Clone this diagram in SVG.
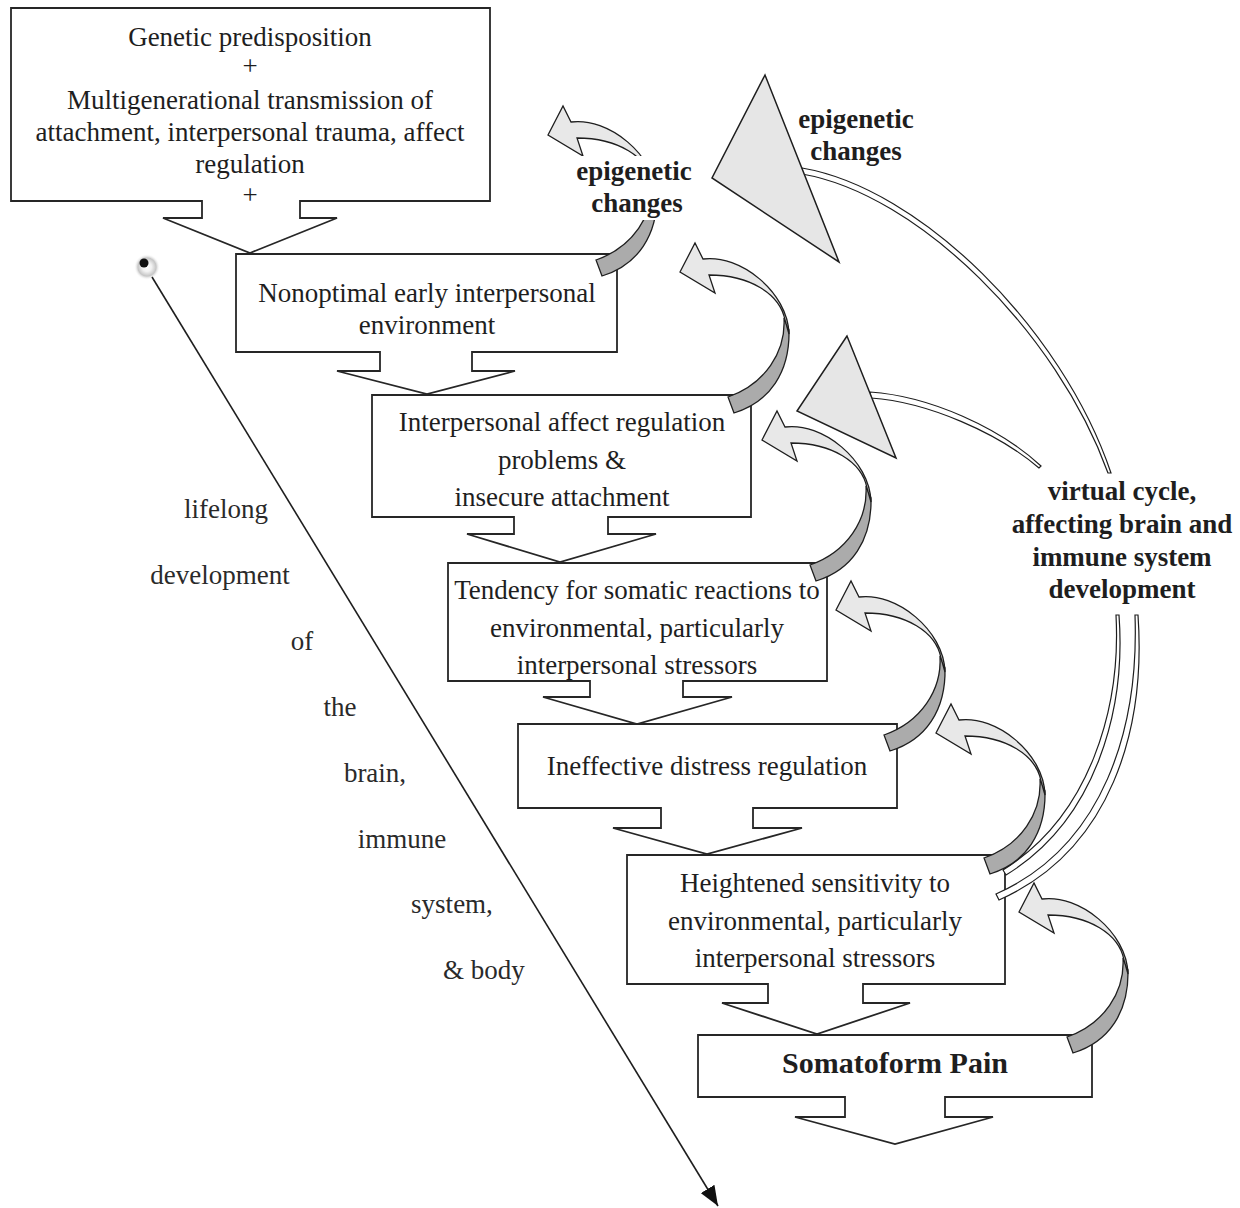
<svg xmlns="http://www.w3.org/2000/svg" width="1240" height="1208" viewBox="0 0 1240 1208">
<defs>
<style>
.box{fill:#fff;stroke:#262626;stroke-width:1.8;stroke-linejoin:miter}
.t{font-family:"Liberation Serif","Times New Roman",serif;font-size:27px;fill:#1e1e1e;text-anchor:middle}
.b{font-weight:bold}
.lbl{font-family:"Liberation Serif","Times New Roman",serif;font-size:27px;fill:#2a2a2a;text-anchor:middle}
.hd{fill:#e8e8e8;stroke:#1e1e1e;stroke-width:1.3;stroke-linejoin:miter}
.tl{fill:#ababab;stroke:#1e1e1e;stroke-width:1.3;stroke-linejoin:miter}
.tri{fill:#e6e6e6;stroke:#1e1e1e;stroke-width:1.5;stroke-linejoin:miter}
.arc{fill:#fff;stroke:#1e1e1e;stroke-width:1.2}
.ln{fill:none;stroke:#1e1e1e;stroke-width:1.6}
</style>
<g id="curl">
<path class="tl" d="M109,58 C110,100 90,130 54,141 L48,125 C85,112 106,80 104,46 Z"/>
<path class="hd" d="M0,0 L15,-29 L23,-13 C60,-18 108,20 109,62 L105,48 C100,22 70,3 29,3 L35,21 Z"/>
</g>
<marker id="ah" viewBox="0 0 20 16" refX="20" refY="8" markerWidth="20" markerHeight="16" markerUnits="userSpaceOnUse" orient="auto">
<path d="M0,0 L20,8 L0,16 Z" fill="#111"/>
</marker>
<radialGradient id="halo" cx="0.5" cy="0.5" r="0.5">
<stop offset="0" stop-color="#ffffff"/>
<stop offset="0.35" stop-color="#f2f2f2"/>
<stop offset="0.7" stop-color="#c6c6c6"/>
<stop offset="1" stop-color="#ffffff" stop-opacity="0"/>
</radialGradient>
</defs>
<rect width="1240" height="1208" fill="#fff"/>

<g id="box1">
<path class="box" d="M11,8 H490 V201 H300 V218 H337 L250,253 L163,218 H202 V201 H11 Z"/>
<text class="t" x="250" y="46">Genetic predisposition</text>
<text class="t" x="250" y="75">+</text>
<text class="t" x="250" y="109">Multigenerational transmission of</text>
<text class="t" x="250" y="141">attachment, interpersonal trauma, affect</text>
<text class="t" x="250" y="173">regulation</text>
<text class="t" x="250" y="204">+</text>
</g>
<g id="box2">
<path class="box" d="M236,254 H617 V352 H472 V371 H515 L427,394 L337,371 H380 V352 H236 Z"/>
<text class="t" x="427" y="302">Nonoptimal early interpersonal</text>
<text class="t" x="427" y="334">environment</text>
</g>
<g id="box3">
<path class="box" d="M372,395 H751 V517 H608 V534 H656 L560,562 L467,534 H514 V517 H372 Z"/>
<text class="t" x="562" y="431">Interpersonal affect regulation</text>
<text class="t" x="562" y="469">problems &amp;</text>
<text class="t" x="562" y="506">insecure attachment</text>
</g>
<g id="box4">
<path class="box" d="M448,563 H827 V681 H683 V697 H732 L637,724 L543,697 H590 V681 H448 Z"/>
<text class="t" x="637" y="599">Tendency for somatic reactions to</text>
<text class="t" x="637" y="637">environmental, particularly</text>
<text class="t" x="637" y="674">interpersonal stressors</text>
</g>
<g id="box5">
<path class="box" d="M518,724 H897 V808 H753 V828 H802 L707,854 L613,828 H661 V808 H518 Z"/>
<text class="t" x="707" y="775">Ineffective distress regulation</text>
</g>
<g id="box6">
<path class="box" d="M627,855 H1005 V984 H863 V1003 H910 L817,1034 L722,1003 H768 V984 H627 Z"/>
<text class="t" x="815" y="892">Heightened sensitivity to</text>
<text class="t" x="815" y="930">environmental, particularly</text>
<text class="t" x="815" y="967">interpersonal stressors</text>
</g>
<g id="box7">
<path class="box" d="M698,1035 H1092 V1097 H945 V1117 H993 L895,1144 L795,1117 H845 V1097 H698 Z"/>
<text class="t b" x="895" y="1073" style="font-size:30px">Somatoform Pain</text>
</g>

<g id="connectors">
<circle cx="147" cy="267" r="13" fill="url(#halo)"/>
<circle cx="144" cy="263" r="4.5" fill="#111"/>
<line class="ln" x1="152" y1="277" x2="718" y2="1206" marker-end="url(#ah)"/>

<path class="arc" d="M802,168 C920,188 1062,328 1111,473 L1108,473 C1057,332 918,194 802,174 Z"/>
<path class="arc" d="M870,392 C930,396 1000,428 1041,466 L1039,468 C998,433 928,402 871,398 Z"/>
<path class="arc" d="M1138,615 C1146,730 1111,850 999,900 L996,894 C1104,846 1139,728 1135,615 Z"/>
<path class="arc" d="M1119,615 C1126,710 1096,820 1006,875 L1003,870 C1090,816 1121,708 1116,615 Z"/>
<polygon class="tri" points="765,75 712,178 839,262"/>
<polygon class="tri" points="847,336 797,411 896,458"/>

<use href="#curl" transform="translate(548,135)"/>
<use href="#curl" transform="translate(680,272)"/>
<use href="#curl" transform="translate(762,440)"/>
<use href="#curl" transform="translate(836,610)"/>
<use href="#curl" transform="translate(936,733)"/>
<use href="#curl" transform="translate(1019,912)"/>
</g>

<g id="epigenetic1">
<rect x="571" y="156" width="126" height="64" fill="#fff"/>
<text class="t b" x="634" y="180">epigenetic</text>
<text class="t b" x="637" y="212">changes</text>
</g>
<g id="epigenetic2">
<text class="t b" x="856" y="128">epigenetic</text>
<text class="t b" x="856" y="160">changes</text>
</g>
<g id="virtual-cycle">
<text class="t b" x="1122" y="500">virtual cycle,</text>
<text class="t b" x="1122" y="533">affecting brain and</text>
<text class="t b" x="1122" y="566">immune system</text>
<text class="t b" x="1122" y="598">development</text>
</g>
<g id="lifelong-label">
<text class="lbl" x="226" y="518">lifelong</text>
<text class="lbl" x="220" y="584">development</text>
<text class="lbl" x="302" y="650">of</text>
<text class="lbl" x="340" y="716">the</text>
<text class="lbl" x="375" y="782">brain,</text>
<text class="lbl" x="402" y="848">immune</text>
<text class="lbl" x="452" y="913">system,</text>
<text class="lbl" x="484" y="979">&amp; body</text>
</g>
</svg>
